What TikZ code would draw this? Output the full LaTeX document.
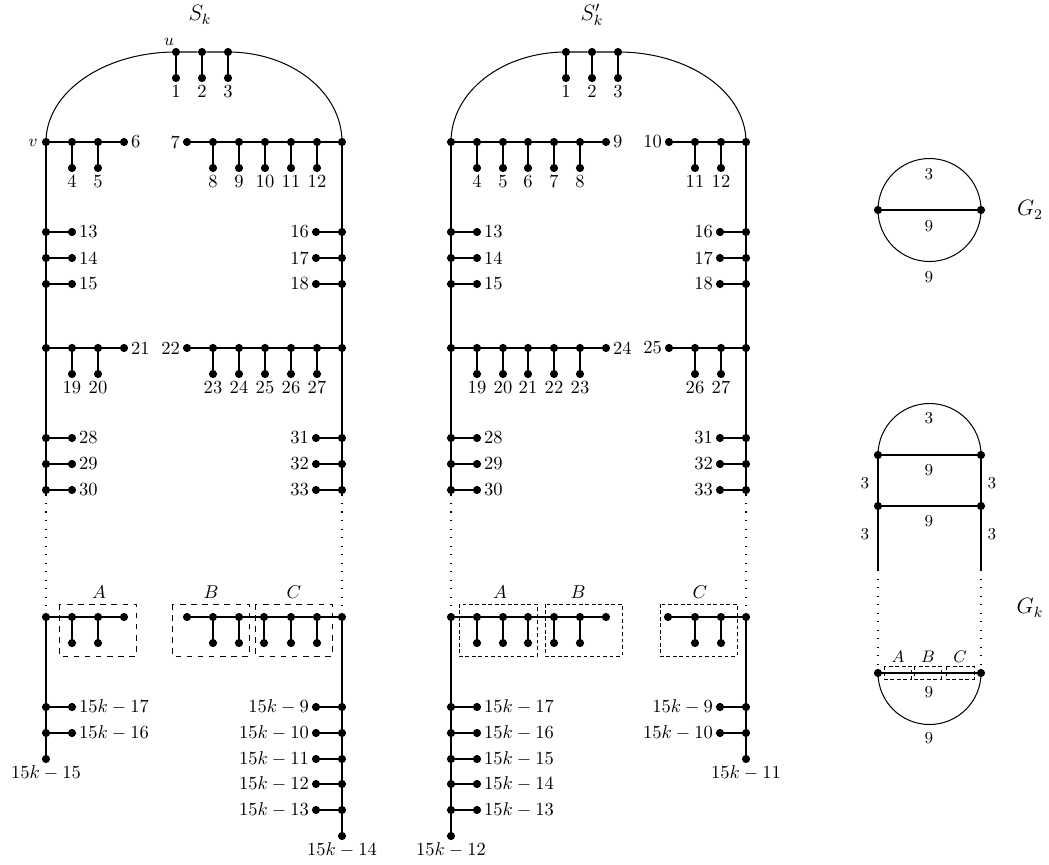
\documentclass[tikz,border=0pt]{standalone}
\begin{document}
\begin{tikzpicture}[x=0.54pt,y=-0.54pt,
  dot/.style={circle,fill=black,inner sep=0pt,minimum size=4.4pt},
  edge/.style={line width=0.55pt},
  lbl/.style={inner sep=1.2pt},
  dotline/.style={line width=0.6pt,dash pattern=on 0.6pt off 4pt},
  boxa/.style={line width=0.5pt,dashed},
  boxb/.style={line width=0.5pt,dash pattern=on 2pt off 1.5pt},
  elab/.style={font=\small,inner sep=0pt},
  ttl/.style={font=\large},
]
\useasboundingbox (0,0) rectangle (1049,865);

% ================= titles
\node[ttl] (tSk) at (200,15) {$S_k$};
\node[ttl] (tSkp) at (592,15) {$S'_k$};

% ================= S_k
\node[dot] (u) at (176,52) {};
\node[font=\small] (ulab) at (169,42) {$u$};
\node[dot] (t2) at (202,52) {};
\node[dot] (t3) at (228,52) {};
\foreach \x/\n [count=\i] in {176/1,202/2,228/3}
  \node[dot,label={[lbl]below:\n}] (tp\i) at (\x,78) {};
\draw[edge] (u)--(tp1) (t2)--(tp2) (t3)--(tp3);
\node[dot] (v) at (46,142) {};
\node[font=\small] (vlab) at (33,143) {$v$};
\node[dot] (R142) at (342,142) {};
\draw[edge] (v.center) .. controls (46,92) and (104,52) .. (u.center) -- (t2) -- (t3.center) .. controls (291,52) and (342,92) .. (R142.center);

% row 1 left
\foreach \x/\n [count=\i] in {72/4,98/5} {
  \node[dot] (ra\i) at (\x,142) {};
  \node[dot,label={[lbl]below:\n}] (rap\i) at (\x,168) {};
  \draw[edge] (ra\i)--(rap\i);
}
\node[dot,label={[lbl]right:6}] (ra3) at (124,142) {};
\draw[edge] (v)--(ra1)--(ra2)--(ra3);
% row 1 right
\node[dot,label={[lbl]left:7}] (rb0) at (187,142) {};
\foreach \x/\n [count=\i] in {213/8,239/9,265/10,291/11,317/12} {
  \node[dot] (rb\i) at (\x,142) {};
  \node[dot,label={[lbl]below:\n}] (rbp\i) at (\x,168) {};
  \draw[edge] (rb\i)--(rbp\i);
}
\draw[edge] (rb0)--(rb1)--(rb2)--(rb3)--(rb4)--(rb5)--(R142);

% side leaves
\foreach \y/\n in {232/13,258/14,284/15,438/28,464/29,490/30} {
  \node[dot] (L\y) at (46,\y) {};
  \node[dot,label={[lbl]right:\n}] (LL\y) at (72,\y) {};
  \draw[edge] (L\y)--(LL\y);
}
\foreach \y/\n in {232/16,258/17,284/18,438/31,464/32,490/33} {
  \node[dot] (R\y) at (342,\y) {};
  \node[dot,label={[lbl]left:\n}] (RR\y) at (316,\y) {};
  \draw[edge] (R\y)--(RR\y);
}

% row 348
\node[dot] (L348) at (46,348) {};
\node[dot] (R348) at (342,348) {};
\foreach \x/\n [count=\i] in {72/19,98/20} {
  \node[dot] (rc\i) at (\x,348) {};
  \node[dot,label={[lbl]below:\n}] (rcp\i) at (\x,374) {};
  \draw[edge] (rc\i)--(rcp\i);
}
\node[dot,label={[lbl]right:21}] (rc3) at (124,348) {};
\draw[edge] (L348)--(rc1)--(rc2)--(rc3);
\node[dot,label={[lbl]left:22}] (rd0) at (187,348) {};
\foreach \x/\n [count=\i] in {213/23,239/24,265/25,291/26,317/27} {
  \node[dot] (rd\i) at (\x,348) {};
  \node[dot,label={[lbl]below:\n}] (rdp\i) at (\x,374) {};
  \draw[edge] (rd\i)--(rdp\i);
}
\draw[edge] (rd0)--(rd1)--(rd2)--(rd3)--(rd4)--(rd5)--(R348);

% row 617
\node[dot] (L617) at (46,617) {};
\node[dot] (R617) at (342,617) {};
\foreach \x [count=\i] in {72,98} {
  \node[dot] (re\i) at (\x,617) {};
  \node[dot] (rep\i) at (\x,643) {};
  \draw[edge] (re\i)--(rep\i);
}
\node[dot] (re3) at (124,617) {};
\draw[edge] (L617)--(re1)--(re2)--(re3);
\node[dot] (rf0) at (187,617) {};
\foreach \x [count=\i] in {213,239,264,291,317} {
  \node[dot] (rf\i) at (\x,617) {};
  \node[dot] (rfp\i) at (\x,643) {};
  \draw[edge] (rf\i)--(rfp\i);
}
\draw[edge] (rf0)--(rf1)--(rf2)--(rf3)--(rf4)--(rf5)--(R617);
\draw[boxa] (59,604) rectangle (136,656);
\draw[boxa] (172,604) rectangle (249,656);
\draw[boxa] (255,604) rectangle (332,656);
\node (bA) at (99,592) {$A$};
\node (bB) at (211,592) {$B$};
\node (bC) at (294,592) {$C$};

% lower leaves
\foreach \y/\n in {707/{$15k-17$},733/{$15k-16$}} {
  \node[dot] (L\y) at (46,\y) {};
  \node[dot,label={[lbl]right:\n}] (LL\y) at (72,\y) {};
  \draw[edge] (L\y)--(LL\y);
}
\node[dot,label={[lbl]below:$15k-15$}] (Lend) at (46,759) {};
\foreach \y/\n in {707/{$15k-9$},733/{$15k-10$},759/{$15k-11$},784/{$15k-12$},810/{$15k-13$}} {
  \node[dot] (R\y) at (342,\y) {};
  \node[dot,label={[lbl]left:\n}] (RR\y) at (316,\y) {};
  \draw[edge] (R\y)--(RR\y);
}
\node[dot,label={[lbl]below:$15k-14$}] (Rend) at (342,836) {};

% verticals
\draw[edge] (v)--(L232)--(L258)--(L284)--(L348)--(L438)--(L464)--(L490);
\draw[dotline] (L490)--(L617);
\draw[edge] (L617)--(L707)--(L733)--(Lend);
\draw[edge] (R142)--(R232)--(R258)--(R284)--(R348)--(R438)--(R464)--(R490);
\draw[dotline] (R490)--(R617);
\draw[edge] (R617)--(R707)--(R733)--(R759)--(R784)--(R810)--(Rend);

% ================= S'_k
\foreach \x/\n [count=\i] in {566/1,592/2,618/3} {
  \node[dot] (q\i) at (\x,52) {};
  \node[dot,label={[lbl]below:\n}] (qp\i) at (\x,78) {};
  \draw[edge] (q\i)--(qp\i);
}
\node[dot] (qv) at (451,142) {};
\node[dot] (qR142) at (746,142) {};
\draw[edge] (qv.center) .. controls (451,92) and (502,52) .. (q1.center) -- (q2) -- (q3.center) .. controls (689,52) and (746,92) .. (qR142.center);

\foreach \x/\n [count=\i] in {477/4,503/5,528/6,554/7,580/8} {
  \node[dot] (qa\i) at (\x,142) {};
  \node[dot,label={[lbl]below:\n}] (qap\i) at (\x,168) {};
  \draw[edge] (qa\i)--(qap\i);
}
\node[dot,label={[lbl]right:9}] (qa6) at (606,142) {};
\draw[edge] (qv)--(qa1)--(qa2)--(qa3)--(qa4)--(qa5)--(qa6);
\node[dot,label={[lbl]left:10}] (qb0) at (669,142) {};
\foreach \x/\n [count=\i] in {695/11,721/12} {
  \node[dot] (qb\i) at (\x,142) {};
  \node[dot,label={[lbl]below:\n}] (qbp\i) at (\x,168) {};
  \draw[edge] (qb\i)--(qbp\i);
}
\draw[edge] (qb0)--(qb1)--(qb2)--(qR142);

\foreach \y/\n in {232/13,258/14,284/15,438/28,464/29,490/30} {
  \node[dot] (qL\y) at (451,\y) {};
  \node[dot,label={[lbl]right:\n}] (qLL\y) at (477,\y) {};
  \draw[edge] (qL\y)--(qLL\y);
}
\foreach \y/\n in {232/16,258/17,284/18,438/31,464/32,490/33} {
  \node[dot] (qR\y) at (746,\y) {};
  \node[dot,label={[lbl]left:\n}] (qRR\y) at (720,\y) {};
  \draw[edge] (qR\y)--(qRR\y);
}

\node[dot] (qL348) at (451,348) {};
\node[dot] (qR348) at (746,348) {};
\foreach \x/\n [count=\i] in {477/19,503/20,528/21,554/22,580/23} {
  \node[dot] (qc\i) at (\x,348) {};
  \node[dot,label={[lbl]below:\n}] (qcp\i) at (\x,374) {};
  \draw[edge] (qc\i)--(qcp\i);
}
\node[dot,label={[lbl]right:24}] (qc6) at (606,348) {};
\draw[edge] (qL348)--(qc1)--(qc2)--(qc3)--(qc4)--(qc5)--(qc6);
\node[dot,label={[lbl]left:25}] (qd0) at (669,348) {};
\foreach \x/\n [count=\i] in {695/26,721/27} {
  \node[dot] (qd\i) at (\x,348) {};
  \node[dot,label={[lbl]below:\n}] (qdp\i) at (\x,374) {};
  \draw[edge] (qd\i)--(qdp\i);
}
\draw[edge] (qd0)--(qd1)--(qd2)--(qR348);

\node[dot] (qL617) at (451,617) {};
\node[dot] (qR617) at (746,617) {};
\foreach \x [count=\i] in {477,503,528,554,580} {
  \node[dot] (qe\i) at (\x,617) {};
  \node[dot] (qep\i) at (\x,643) {};
  \draw[edge] (qe\i)--(qep\i);
}
\node[dot] (qe6) at (606,617) {};
\draw[edge] (qL617)--(qe1)--(qe2)--(qe3)--(qe4)--(qe5)--(qe6);
\node[dot] (qf0) at (668,617) {};
\foreach \x [count=\i] in {695,721} {
  \node[dot] (qf\i) at (\x,617) {};
  \node[dot] (qfp\i) at (\x,643) {};
  \draw[edge] (qf\i)--(qfp\i);
}
\draw[edge] (qf0)--(qf1)--(qf2)--(qR617);
\draw[boxb] (459,604) rectangle (537,656);
\draw[boxb] (545,604) rectangle (622,656);
\draw[boxb] (660,604) rectangle (737,656);
\node (qbA) at (500,592) {$A$};
\node (qbB) at (578,592) {$B$};
\node (qbC) at (700,592) {$C$};

\foreach \y/\n in {707/{$15k-17$},733/{$15k-16$},759/{$15k-15$},784/{$15k-14$},810/{$15k-13$}} {
  \node[dot] (qL\y) at (451,\y) {};
  \node[dot,label={[lbl]right:\n}] (qLL\y) at (477,\y) {};
  \draw[edge] (qL\y)--(qLL\y);
}
\node[dot,label={[lbl]below:$15k-12$}] (qLend) at (451,836) {};
\foreach \y/\n in {707/{$15k-9$},733/{$15k-10$}} {
  \node[dot] (qR\y) at (746,\y) {};
  \node[dot,label={[lbl]left:\n}] (qRR\y) at (720,\y) {};
  \draw[edge] (qR\y)--(qRR\y);
}
\node[dot,label={[lbl]below:$15k-11$}] (qRend) at (746,759) {};

\draw[edge] (qv)--(qL232)--(qL258)--(qL284)--(qL348)--(qL438)--(qL464)--(qL490);
\draw[dotline] (qL490)--(qL617);
\draw[edge] (qL617)--(qL707)--(qL733)--(qL759)--(qL784)--(qL810)--(qLend);
\draw[edge] (qR142)--(qR232)--(qR258)--(qR284)--(qR348)--(qR438)--(qR464)--(qR490);
\draw[dotline] (qR490)--(qR617);
\draw[edge] (qR617)--(qR707)--(qR733)--(qRend);

% ================= G_2
\node[dot] (g2a) at (878,210) {};
\node[dot] (g2b) at (981,210) {};
\draw[edge] (g2a.center) arc[start angle=180,end angle=0,radius=27.81pt];
\draw[edge] (g2a.center) arc[start angle=180,end angle=360,radius=27.81pt];
\draw[edge] (g2a)--(g2b);
\node[elab] (g2l1) at (929,174) {3};
\node[elab] (g2l2) at (929,226) {9};
\node[elab] (g2l3) at (929,277) {9};
\node[ttl] (g2name) at (1030,210) {$G_2$};

% ================= G_k
\node[dot] (gk1) at (878,455) {};
\node[dot] (gk2) at (981,455) {};
\node[dot] (gk3) at (878,506) {};
\node[dot] (gk4) at (981,506) {};
\node[dot] (gk5) at (878,673) {};
\node[dot] (gk6) at (981,673) {};
\coordinate (ck1) at (878,570);
\coordinate (ck2) at (981,570);
\draw[edge] (gk1.center) arc[start angle=180,end angle=0,radius=27.81pt];
\draw[edge] (gk5.center) arc[start angle=180,end angle=360,radius=27.81pt];
\draw[edge] (gk1)--(gk2);
\draw[edge] (gk3)--(gk4);
\draw[edge] (gk5)--(gk6);
\draw[edge] (gk1)--(gk3)--(ck1);
\draw[edge] (gk2)--(gk4)--(ck2);
\draw[dotline] (ck1)--(gk5);
\draw[dotline] (ck2)--(gk6);
\draw[boxb,line width=0.4pt] (884,666) rectangle (911,679);
\draw[boxb,line width=0.4pt] (914,666) rectangle (941,679);
\draw[boxb,line width=0.4pt] (946,666) rectangle (974,679);
\node[elab] (gkl1) at (929,418) {3};
\node[elab] (gkl2) at (929,470) {9};
\node[elab] (gkl3) at (929,521) {9};
\node[elab] (gkl4) at (865,483) {3};
\node[elab] (gkl5) at (992,483) {3};
\node[elab] (gkl6) at (865,534) {3};
\node[elab] (gkl7) at (992,534) {3};
\node[elab] (gkA) at (898,657) {$A$};
\node[elab] (gkB) at (928,657) {$B$};
\node[elab] (gkC) at (960,657) {$C$};
\node[elab] (gkl8) at (929,692) {9};
\node[elab] (gkl9) at (929,738) {9};
\node[ttl] (gkname) at (1030,608) {$G_k$};
\end{tikzpicture}
\end{document}
